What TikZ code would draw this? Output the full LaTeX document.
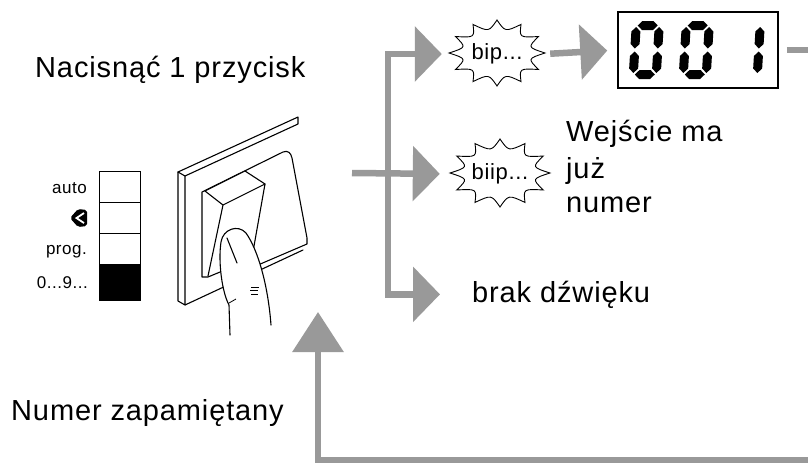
\documentclass[tikz,border=0pt]{standalone}
\usepackage{fontspec}
\setmainfont{Liberation Sans}[LetterSpace=3]
\usetikzlibrary{arrows.meta}
\definecolor{arrowgray}{rgb}{0.6,0.6,0.6}

% seven-segment pieces: horizontal and vertical pointed bars
\newcommand\hsegm[3]{\fill (#1,#3) -- ({#1+4.5},{#3-4.5}) -- ({#2-4.5},{#3-4.5}) -- (#2,#3) -- ({#2-4.5},{#3+4.5}) -- ({#1+4.5},{#3+4.5}) -- cycle;}
\newcommand\vsegm[3]{\fill (#1,#2) -- ({#1+4.5},{#2+4.5}) -- ({#1+4.5},{#3-4.5}) -- (#1,#3) -- ({#1-4.5},{#3-4.5}) -- ({#1-4.5},{#2+4.5}) -- cycle;}
\newcommand\digitzero{\hsegm{6}{26}{4.5}\hsegm{6}{26}{53.5}\vsegm{4.5}{6}{27.5}\vsegm{4.5}{30.5}{52}\vsegm{27.5}{6}{27.5}\vsegm{27.5}{30.5}{52}}
\newcommand\digitone{\vsegm{27.5}{6}{27.5}\vsegm{27.5}{30.5}{52}}

% sound bubble with concave edges between twelve spikes
\newcommand\burstshape[4]{%
  \draw[line width=0.9pt, fill=white] ({#1+#3},{#2})
    \foreach \k in {1,...,12}{ .. controls ({#1+0.66*#3*cos(30*\k-15)},{#2+0.66*#4*sin(30*\k-15)}) .. ({#1+#3*cos(30*\k)},{#2+#4*sin(30*\k)}) } -- cycle;}

\begin{document}
\begin{tikzpicture}[x=1pt, y=-1pt,
  lbl/.style={font=\fontsize{29}{34}\selectfont, inner sep=0pt},
  small/.style={font=\fontsize{17}{20}\selectfont, inner sep=0pt},
  bub/.style={font=\fontsize{22}{26}\selectfont, inner sep=0pt},
  swl/.style={line width=1.1pt, line join=round, line cap=round},
  fat/.style={draw=arrowgray, line width=6.5pt, line join=miter,
    -{Triangle[length=27pt, width=54pt]}},
  fatup/.style={draw=arrowgray, line width=6.5pt, line join=miter,
    -{Triangle[length=40pt, width=50pt]}},
  shaft/.style={draw=arrowgray, line width=6.5pt}]
\useasboundingbox (0,0) rectangle (808,469);
\fill[white] (0,0) rectangle (808,469);

% labels
\node[lbl, anchor=base west] (press) at (35,77) {Nacisnąć 1 przycisk};
\node[lbl, anchor=base west] (wej1) at (566,141) {Wejście ma};
\node[lbl, anchor=base west] (wej2) at (566,178) {już};
\node[lbl, anchor=base west] (wej3) at (566,212) {numer};
\node[lbl, anchor=base west] (brak) at (472,302) {brak dźwięku};
\node[lbl, anchor=base west] (stored) at (11,420) {Numer zapamiętany};

% selector strip
\draw[line width=1pt] (99,171) rectangle (140,300);
\draw[line width=1pt] (99,202) -- (140,202) (99,233) -- (140,233);
\fill (99,264) rectangle (140,300);
\node[small, anchor=base east] (auto) at (87,193) {auto};
\node[small, anchor=base east] (prog) at (87,254) {prog.};
\node[small, anchor=base east] (num) at (88,288) {0...9...};
\fill[rounded corners=2pt] (70,218) -- (78,209) -- (87,210) -- (87,226) -- (78,227) -- cycle;
\draw[white, line width=1.8pt] (84,213) -- (76.5,218) -- (84,223);

% wall switch with a pressing finger
\draw[swl, fill=white] (178,172) -- (298,117) -- (298,124) -- (185,176) -- cycle;
\draw[swl] (178,172) -- (178,301) -- (185,305) -- (185,176);
\draw[swl] (185,305) -- (303,250);
\draw[swl, fill=white] (202,192) -- (283,152) .. controls (288,150) and (291,153) .. (292,158)
  -- (307,238) -- (307,244) -- (258,265) -- (237,265) -- (208,277) -- (202,277) -- cycle;
\draw[swl, fill=white] (205,191) -- (245,171) -- (265,184) -- (223,205) -- cycle;
\draw[swl] (223,205) -- (208,276);
\draw[swl] (265,184) -- (251,263);
\draw[swl] (237,264) -- (258,263);
\draw[swl, fill=white] (230,335) -- (229,305) .. controls (222,292) and (218,262) .. (221,242)
  .. controls (223,229) and (238,224) .. (246,233) .. controls (258,250) and (268,285) .. (271,325);
\draw[swl] (227,238) -- (237,263);
\draw[line width=0.8pt] (251,287) -- (259,287) (250,290.5) -- (258,290.5) (251,294) -- (258,294);
\draw[line width=0.8pt] (229,303) -- (236,299);

% sound bubbles
\burstshape{497}{53}{48}{33}
\node[bub, minimum width=96pt, minimum height=64pt] (bip) at (497,54) {bip...};
\burstshape{500}{173}{50}{34}
\node[bub, minimum width=100pt, minimum height=66pt] (biip) at (500,174) {biip...};

% number display
\node[draw, line width=1.5pt, minimum width=160pt, minimum height=76pt, inner sep=0pt] (disp) at (698,50) {};
\begin{scope}[shift={(632,21)}, xslant=0.06]\digitzero\end{scope}
\begin{scope}[shift={(682,21)}, xslant=0.06]\digitzero\end{scope}
\begin{scope}[shift={(733,21)}, xslant=0.06]\digitone\end{scope}

% flow arrows
\coordinate (swout) at (352,173);
\coordinate (jn) at (388,173);
\coordinate (outr) at (808,50);
\coordinate (fbr) at (808,460);
\coordinate (swin) at (318,312);
\draw[fat, shorten >=10pt] (swout) -- (biip.west);
\draw[fat, shorten >=7pt] (jn) |- (bip.west);
\draw[fat, shorten >=32pt] (jn) |- (brak.west);
\draw[fat, shorten <=5pt, shorten >=10pt] (bip.east) -- (disp.west);
\draw[shaft, shorten <=8pt] (disp.east |- outr) -- (outr);
\draw[fatup] (fbr) -| (swin);
\end{tikzpicture}
\end{document}
